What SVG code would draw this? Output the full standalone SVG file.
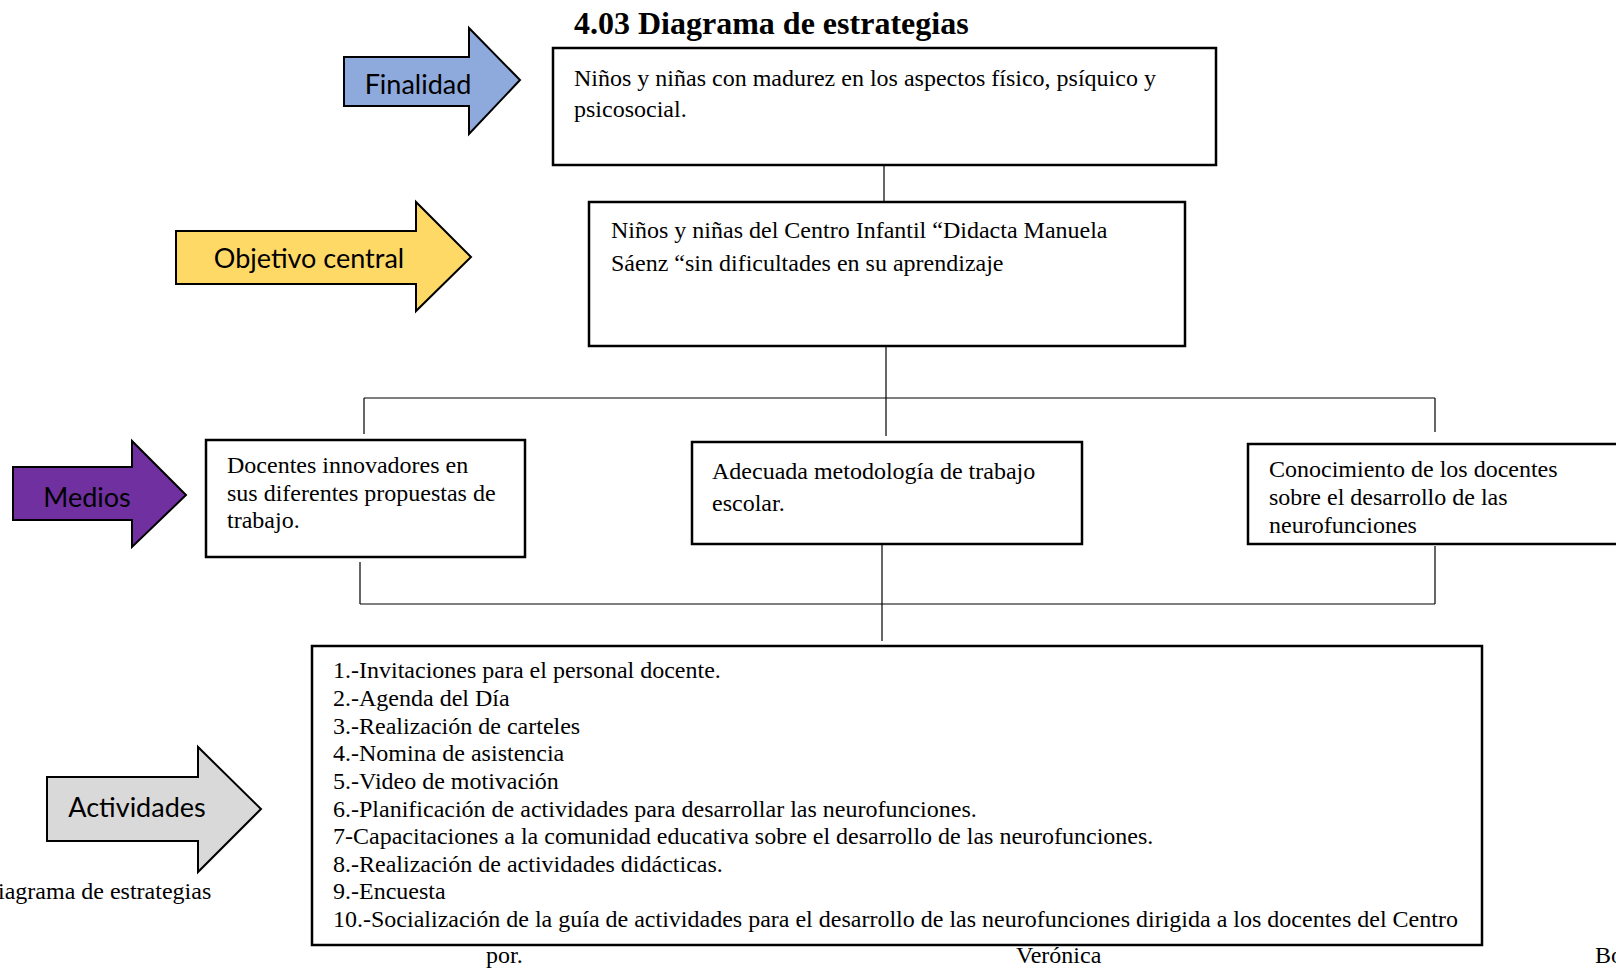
<svg xmlns="http://www.w3.org/2000/svg" width="1616" height="968" viewBox="0 0 1616 968">
<style>
.box{fill:#fff;stroke:#000;stroke-width:2.5}
.arr{stroke:#000;stroke-width:2}
.t{font-family:"Liberation Serif","Times New Roman",serif;font-size:24px;fill:#000}
.lbl{font-family:Lato,"Open Sans",sans-serif;font-size:27px;fill:#000;text-anchor:middle}
.ln{stroke:#000;stroke-width:1.2;fill:none}
</style>
<rect width="1616" height="968" fill="#fff"/>
<text x="574" y="34" font-family="Liberation Serif,serif" font-weight="bold" font-size="32">4.03 Diagrama de estrategias</text>

<g id="connectors">
<line class="ln" x1="884" y1="165" x2="884" y2="202"/>
<line class="ln" x1="886" y1="346" x2="886" y2="436"/>
<line class="ln" x1="364" y1="398" x2="1435" y2="398"/>
<line class="ln" x1="364" y1="398" x2="364" y2="434"/>
<line class="ln" x1="1435" y1="398" x2="1435" y2="432"/>
<line class="ln" x1="360" y1="562" x2="360" y2="604"/>
<line class="ln" x1="360" y1="604" x2="1435" y2="604"/>
<line class="ln" x1="1435" y1="546" x2="1435" y2="604"/>
<line class="ln" x1="882" y1="544" x2="882" y2="641"/>
</g>

<g id="arrow-finalidad">
<polygon class="arr" fill="#8EA9DB" points="344,57 469,57 469,28 520,80 469,134 469,106 344,106"/>
<text class="lbl" x="418" y="94">Finalidad</text>
</g>
<g id="arrow-objetivo">
<polygon class="arr" fill="#FFD966" points="176,231 416,231 416,202 471,257 416,311 416,284 176,284"/>
<text class="lbl" x="309" y="268">Objetivo central</text>
</g>
<g id="arrow-medios">
<polygon class="arr" fill="#7030A0" points="13,467 132,467 132,441 186,495 132,547 132,520 13,520"/>
<text class="lbl" x="87" y="507">Medios</text>
</g>
<g id="arrow-actividades">
<polygon class="arr" fill="#D9D9D9" points="47,777 198,777 198,747 261,809 198,872 198,841 47,841"/>
<text class="lbl" x="137" y="817">Actividades</text>
</g>

<g id="node-finalidad">
<rect class="box" x="553" y="48" width="663" height="117"/>
<text class="t" x="574" y="86">Niños y niñas con madurez en los aspectos físico, psíquico y</text>
<text class="t" x="574" y="117">psicosocial.</text>
</g>
<g id="node-objetivo">
<rect class="box" x="589" y="202" width="596" height="144"/>
<text class="t" x="611" y="238">Niños y niñas del Centro Infantil “Didacta Manuela</text>
<text class="t" x="611" y="271">Sáenz “sin dificultades en su aprendizaje</text>
</g>
<g id="node-docentes">
<rect class="box" x="206" y="440" width="319" height="117"/>
<text class="t" x="227" y="473">Docentes innovadores en</text>
<text class="t" x="227" y="501">sus diferentes propuestas de</text>
<text class="t" x="227" y="528">trabajo.</text>
</g>
<g id="node-adecuada">
<rect class="box" x="692" y="442" width="390" height="102"/>
<text class="t" x="712" y="479">Adecuada metodología de trabajo</text>
<text class="t" x="712" y="511">escolar.</text>
</g>
<g id="node-conocimiento">
<rect class="box" x="1248" y="444" width="380" height="100"/>
<text class="t" x="1269" y="477">Conocimiento de los docentes</text>
<text class="t" x="1269" y="505">sobre el desarrollo de las</text>
<text class="t" x="1269" y="533">neurofunciones</text>
</g>
<g id="node-actividades">
<rect class="box" x="312" y="646" width="1170" height="299"/>
<text class="t" x="333" y="678">1.-Invitaciones para el personal docente.</text>
<text class="t" x="333" y="706">2.-Agenda del Día</text>
<text class="t" x="333" y="734">3.-Realización de carteles</text>
<text class="t" x="333" y="761">4.-Nomina de asistencia</text>
<text class="t" x="333" y="789">5.-Video de motivación</text>
<text class="t" x="333" y="817">6.-Planificación de actividades para desarrollar las neurofunciones.</text>
<text class="t" x="333" y="844">7-Capacitaciones a la comunidad educativa sobre el desarrollo de las  neurofunciones.</text>
<text class="t" x="333" y="872">8.-Realización de actividades didácticas.</text>
<text class="t" x="333" y="899">9.-Encuesta</text>
<text class="t" x="333" y="927">10.-Socialización de la guía de actividades para el desarrollo de las neurofunciones dirigida a los docentes del Centro</text>
</g>

<text class="t" x="-2" y="899">iagrama de estrategias</text>
<text class="t" x="486" y="963">por.</text>
<text class="t" x="1016" y="963">Verónica</text>
<text class="t" x="1595" y="963">Bo</text>
</svg>
